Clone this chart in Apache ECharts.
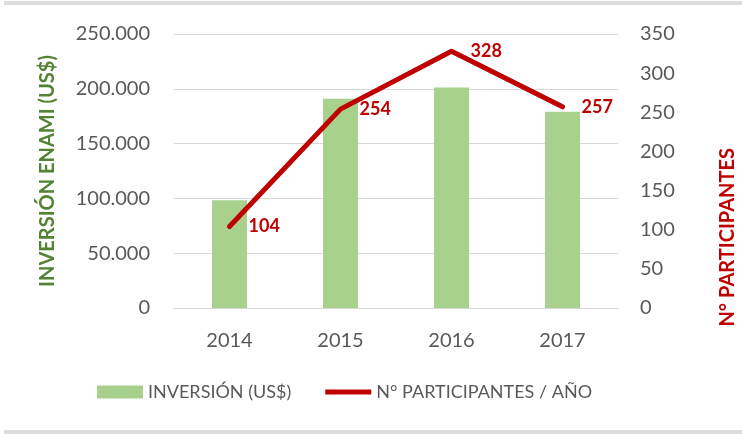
<!DOCTYPE html>
<html>
<head>
<meta charset="utf-8">
<script src="https://cdn.jsdelivr.net/npm/echarts@6/dist/echarts.min.js"></script>
<style>
    html, body { margin: 0; padding: 0; background: #fff; }
    #chart { width: 742px; height: 434px; }
</style>
</head>
<body>
<div id="chart"></div>
<script type="text/javascript">
    // datos
    var years = ['2014', '2015', '2016', '2017'];
    var inversion = [98200, 190900, 201200, 179100];
    var participantes = [104, 254, 328, 257];

    var chart = echarts.init(document.getElementById('chart'));
    var font = 'Lato, "Open Sans", sans-serif';

    var option = {
        animation: false,
        textStyle: { fontFamily: font },
        grid: { left: 174, right: 124, top: 34, bottom: 126 },
        legend: {
            bottom: 28,
            left: 92,
            itemGap: 34,
            itemWidth: 46,
            itemHeight: 13,
            textStyle: { color: '#595959', fontSize: 18, fontFamily: font },
            data: [
                { name: 'INVERSIÓN (US$)', icon: 'rect' },
                { name: 'N° PARTICIPANTES / AÑO', icon: 'path://M0,0 L46,0 L46,5 L0,5 Z' }
            ]
        },
        xAxis: {
            type: 'category',
            data: years,
            axisTick: { show: false },
            axisLine: { lineStyle: { color: '#D9D9D9' } },
            axisLabel: { color: '#595959', fontSize: 20, margin: 23 }
        },
        yAxis: [{
            type: 'value',
            min: 0, max: 250000, interval: 50000,
            name: 'INVERSIÓN ENAMI (US$)',
            nameLocation: 'middle',
            nameRotate: 90,
            nameGap: 116,
            nameTextStyle: { color: '#548235', fontWeight: 'bold', fontSize: 20 },
            axisLabel: {
                color: '#595959', fontSize: 20, margin: 24,
                formatter: function (v) {
                    return v === 0 ? '0' : (v / 1000) + '.000';
                }
            },
            splitLine: { lineStyle: { color: '#D9D9D9', width: 1 } }
        }, {
            type: 'value',
            min: 0, max: 350, interval: 50,
            position: 'right',
            axisLabel: { color: '#595959', fontSize: 20, margin: 22 },
            splitLine: { show: false }
        }],
        series: [{
            name: 'INVERSIÓN (US$)',
            type: 'bar',
            yAxisIndex: 0,
            barWidth: 35,
            itemStyle: { color: '#A9D18E' },
            data: inversion
        }, {
            name: 'N° PARTICIPANTES / AÑO',
            type: 'line',
            yAxisIndex: 1,
            symbol: 'circle',
            symbolSize: 2,
            itemStyle: { color: '#C00000' },
            lineStyle: { color: '#C00000', width: 5, cap: 'round', join: 'round' },
            label: {
                show: true,
                position: 'right',
                distance: 18,
                color: '#C00000',
                fontWeight: 'bold',
                fontSize: 18
            },
            data: participantes
        }],
        graphic: [{
            type: 'text',
            left: 718,
            top: 148,
            style: {
                text: 'N° PARTICIPANTES',
                fill: '#C00000',
                font: 'bold 20px ' + font
            },
            rotation: Math.PI / 2,
            originX: 0, originY: 0
        }, {
            type: 'rect',
            shape: { x: 4, y: 1, width: 742, height: 4 },
            style: { fill: '#DCDCDC' }
        }, {
            type: 'rect',
            shape: { x: 4, y: 430, width: 742, height: 4 },
            style: { fill: '#DCDCDC' }
        }]
    };

    chart.setOption(option);
</script>
</body>
</html>
